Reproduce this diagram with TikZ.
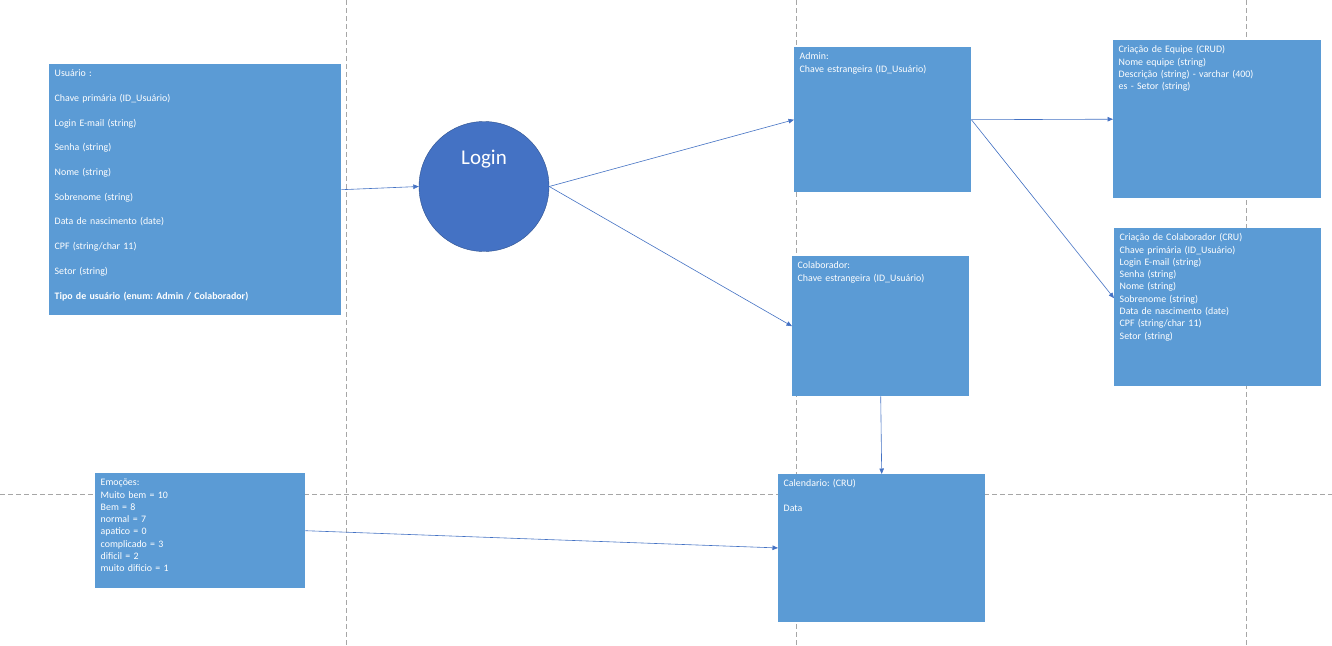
\documentclass[tikz,border=0pt]{standalone}
\usepackage{fontspec}
\setmainfont{Carlito}
\usepackage{xcolor}
\usetikzlibrary{arrows.meta}
\definecolor{boxBlue}{HTML}{5B9BD5}
\definecolor{circleBlue}{HTML}{4472C4}
\definecolor{circleEdge}{HTML}{2F528F}
\definecolor{lineBlue}{HTML}{4472C4}
\definecolor{gridGray}{HTML}{A6A6A6}
\frenchspacing

\begin{document}
\begin{tikzpicture}[x=1pt,y=-1pt,
panel/.style={fill=boxBlue,text=white,anchor=north west,align=left,
    inner xsep=5.5pt,inner ysep=0pt,text height=12.5pt,
    font=\fontsize{9.9}{12.3}\selectfont},
loginCircle/.style={shape=circle,fill=circleBlue,draw=circleEdge,thin,
    minimum size=130pt,inner sep=0},
%loginText/.style={font=\fontsize{21}{24}\selectfont},
myarrow/.style={-{Triangle[length=5.5pt,width=4.5pt]},draw=lineBlue,semithick},
gridLine/.style={draw=gridGray,thin,dash pattern=on 5pt off 3pt}
]
\path[use as bounding box,fill=white] (0,0) rectangle (1332,645);
\draw[gridLine] (346,0) -- (346,645) (796,0) -- (796,645) (1246,0) -- (1246,645);
\draw[gridLine] (0,494) -- (1332,494);

\node[panel,text width=281pt,text depth=238.5pt,font=\fontsize{9.9}{24.7}\selectfont] (usuario) at (49,64)
  {Usuário :\\Chave primária (ID\_Usuário)\\Login E-mail (string)\\Senha (string)\\Nome (string)\\
   Sobrenome (string)\\Data de nascimento (date)\\CPF (string/char 11)\\Setor (string)\\
   \textbf{Tipo de usuário (enum: Admin / Colaborador)}};
\node[loginCircle,label={[text=white,font=\fontsize{21}{24}\selectfont,yshift=27pt]center:Login}] (login) at (484,186.5) {};
\node[panel,text width=166pt,text depth=132.5pt] (admin) at (794,47)
  {Admin:\\Chave estrangeira (ID\_Usuário)};
\node[panel,text width=166pt,text depth=127.5pt] (colab) at (792,256)
  {Colaborador:\\Chave estrangeira (ID\_Usuário)};
\node[panel,text width=196pt,text depth=135pt] (calendario) at (778,474)
  {Calendario: (CRU)\\[12.3pt]Data};
\node[panel,text width=199pt,text depth=102.5pt] (emocoes) at (95,473)
  {Emoções:\\Muito bem = 10\\Bem = 8\\normal = 7\\apatico = 0\\complicado = 3\\dificil = 2\\muito dificio = 1};
\node[panel,text width=197pt,text depth=145.5pt] (equipe) at (1113,40)
  {Criação de Equipe (CRUD)\\Nome equipe (string)\\Descrição (string) - varchar (400)\\es - Setor (string)};
\node[panel,text width=196pt,text depth=145.5pt] (novoColab) at (1114,228)
  {Criação de Colaborador (CRU)\\Chave primária (ID\_Usuário)\\Login E-mail (string)\\Senha (string)\\
   Nome (string)\\Sobrenome (string)\\Data de nascimento (date)\\CPF (string/char 11)\\Setor (string)};

\draw[myarrow] (usuario.east) -- (login.west);
\draw[myarrow] (login.east) -- (admin.west);
\draw[myarrow] (login.east) -- (colab.west);
\draw[myarrow] (admin.east) -- (equipe.west);
\draw[myarrow] (admin.east) -- ([yshift=9pt]novoColab.west);
\draw[myarrow] (colab.south) -- (calendario.north);
\draw[myarrow] (emocoes.east) -- (calendario.west);
\end{tikzpicture}
\end{document}
